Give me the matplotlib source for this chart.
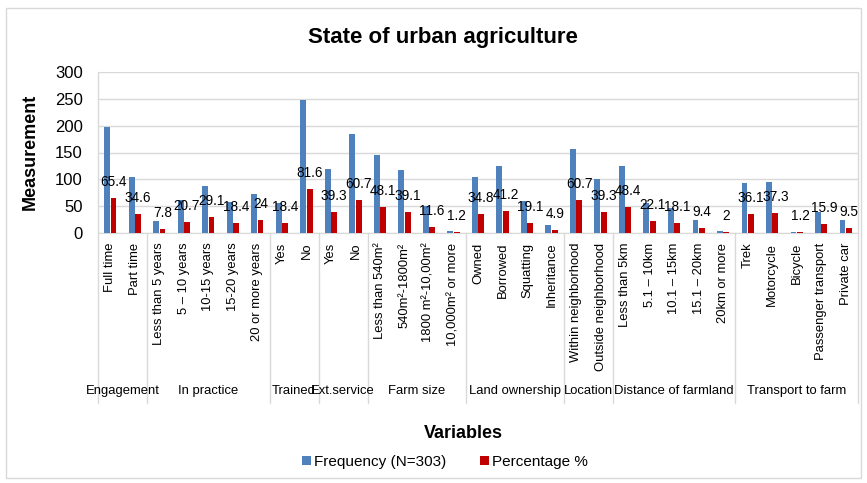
import numpy as np
import matplotlib
matplotlib.use('Agg')
import matplotlib.pyplot as plt
from matplotlib import font_manager
from matplotlib.patches import Rectangle

#####################
# DATA
#####################
groups = ['Engagement', 'In practice', 'Trained', 'Ext.service', 'Farm size',
          'Land ownership', 'Location', 'Distance of farmland', 'Transport to farm']
group_sizes = [2, 5, 2, 2, 4, 4, 2, 5, 5]
categories = ['Full time', 'Part time',
              'Less than 5 years', '5 – 10 years', '10-15 years', '15-20 years', '20 or more years',
              'Yes', 'No',
              'Yes', 'No',
              'Less than 540m²', '540m²-1800m²', '1800 m²-10,00m²', '10,000m² or more',
              'Owned', 'Borrowed', 'Squatting', 'Inheritance',
              'Within neighborhood', 'Outside neighborhood',
              'Less than 5km', '5.1 – 10km', '10.1 – 15km', '15.1 – 20km', '20km or more',
              'Trek', 'Motorcycle', 'Bicycle', 'Passenger transport', 'Private car']
frequency = [198, 105,
             23, 62, 88, 57, 73,
             56, 247,
             119, 184,
             145, 118, 51, 3,
             105, 125, 59, 14,
             156, 101,
             125, 56, 46, 24, 4,
             93, 95, 2, 40, 24]
percentage = [65.4, 34.6,
              7.8, 20.7, 29.1, 18.4, 24,
              18.4, 81.6,
              39.3, 60.7,
              48.1, 39.1, 11.6, 1.2,
              34.8, 41.2, 19.1, 4.9,
              60.7, 39.3,
              48.4, 22.1, 18.1, 9.4, 2,
              36.1, 37.3, 1.2, 15.9, 9.5]

# the original uses a narrow face; without one, shrink the size instead
names = {f.name for f in font_manager.fontManager.ttflist}
if 'Liberation Sans Narrow' in names:
    narrow, small = 'Liberation Sans Narrow', 11
else:
    narrow, small = 'Liberation Sans', 9.4
plt.rcParams['font.family'] = ['Liberation Sans', 'DejaVu Sans']

blue = '#4F81BD'
red = '#C00000'
grid_c = '#D9D9D9'

W, H = 867, 483
fig = plt.figure(figsize=(W / 100, H / 100), dpi=100)

# outer chart border
fig.patches.append(Rectangle((6 / W, 1 - 478 / H), 855 / W, 470 / H, transform=fig.transFigure,
                             fill=False, edgecolor=grid_c, linewidth=1))

left, right, top, bottom = 98, 858, 72, 233
ax = fig.add_axes([left / W, 1 - bottom / H, (right - left) / W, (bottom - top) / H])

x = np.arange(len(categories))
ax.bar(x - 0.13, frequency, width=0.24, color=blue, label='Frequency (N=303)', zorder=3)
ax.bar(x + 0.13, percentage, width=0.24, color=red, label='Percentage %', zorder=3)

for xi, p in zip(x, percentage):
    ax.annotate(f'{p:g}', (xi + 0.13, p), xytext=(0, 11.5), textcoords='offset points',
                ha='center', va='center', fontsize=small + 0.4, family=narrow, zorder=5)

ax.set_xlim(-0.5, len(categories) - 0.5)
ax.set_ylim(0, 300)
ax.set_yticks(range(0, 301, 50))
ax.tick_params(axis='y', length=0, pad=11, labelsize=12)
ax.set_xticks(x)
ax.set_xticklabels(categories, rotation=90, va='top', ha='center', fontsize=small, family=narrow)
ax.tick_params(axis='x', length=0, pad=7)
ax.grid(axis='y', color=grid_c, linewidth=1, zorder=0)
for s in ['top', 'right', 'left']:
    ax.spines[s].set_visible(False)
ax.spines['bottom'].set_color(grid_c)

# multi-level category axis: separators and group names
depth = -(403 - bottom) / (bottom - top)
label_y = -(391 - bottom) / (bottom - top)
bounds = np.concatenate([[0], np.cumsum(group_sizes)]) - 0.5
trans = ax.get_xaxis_transform()
for b in bounds:
    ax.plot([b, b], [depth, 1 if b in (bounds[0], bounds[-1]) else 0], color=grid_c,
            linewidth=1, transform=trans, clip_on=False, zorder=1)
for g, a, b in zip(groups, bounds[:-1], bounds[1:]):
    ax.text((a + b) / 2, label_y, g, transform=trans, ha='center', va='center',
            fontsize=small, family=narrow)

fig.text(443 / W, 1 - 38 / H, 'State of urban agriculture', ha='center', va='center',
         fontsize=16, fontweight='bold')
fig.text(463 / W, 1 - 433 / H, 'Variables', ha='center', va='center', fontsize=13, fontweight='bold')
fig.text(30 / W, 1 - 152 / H, 'Measurement', ha='center', va='center', rotation=90,
         fontsize=13, fontweight='bold')

fig.legend(loc='center', bbox_to_anchor=(445 / W, 1 - 462 / H), ncol=2, frameon=False,
           fontsize=11, handlelength=0.6, handleheight=0.6, handletextpad=0.2, columnspacing=2.2)

fig.savefig('out.png', dpi=100)
